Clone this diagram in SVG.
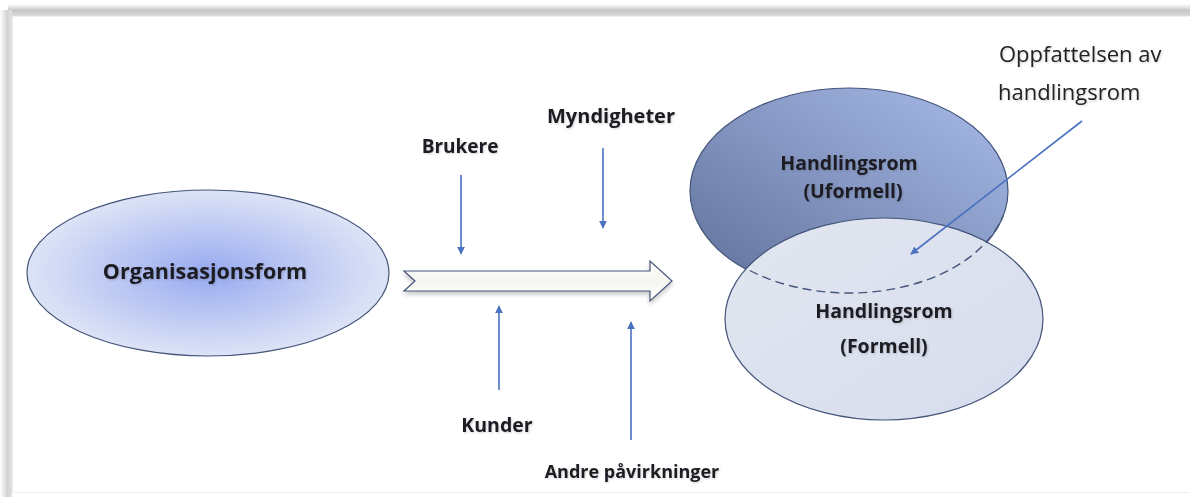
<svg xmlns="http://www.w3.org/2000/svg" width="1190" height="497" viewBox="0 0 1190 497" overflow="hidden">
  <style>
    .lbl { font-family: "Open Sans", "Liberation Sans", sans-serif; font-weight: 700; font-size: 19.5px; fill: #1c1c24; }
    .note { font-family: "Open Sans", "Liberation Sans", sans-serif; font-weight: 400; font-size: 22px; fill: #222; }
    .infl { stroke: #4a72c0; stroke-width: 1.6; fill: none; }
    .outline { stroke: #45557a; stroke-width: 1.2; }
  </style>
  <defs>
    <radialGradient id="orgFill" cx="0.5" cy="0.5" r="0.5">
      <stop offset="0" stop-color="#98aaf0"/>
      <stop offset="1" stop-color="#dde3f6"/>
    </radialGradient>
    <linearGradient id="uformFill" x1="0" y1="1" x2="1" y2="0">
      <stop offset="0" stop-color="#5f7199"/>
      <stop offset="1" stop-color="#a9bbe9"/>
    </linearGradient>
    <linearGradient id="formFill" x1="0" y1="0" x2="1" y2="1">
      <stop offset="0" stop-color="#e2e6f0"/>
      <stop offset="1" stop-color="#d6dded"/>
    </linearGradient>
    <linearGradient id="shaftFill" x1="0" y1="0" x2="0" y2="1">
      <stop offset="0" stop-color="#ffffff"/>
      <stop offset="0.5" stop-color="#f6f6f0"/>
      <stop offset="1" stop-color="#ffffff"/>
    </linearGradient>
    <linearGradient id="topShade" x1="0" y1="0" x2="0" y2="1">
      <stop offset="0" stop-color="#ffffff"/>
      <stop offset="0.55" stop-color="#c6c6c6"/>
      <stop offset="1" stop-color="#dcdcdc"/>
    </linearGradient>
    <linearGradient id="leftShade" x1="0" y1="0" x2="1" y2="0">
      <stop offset="0" stop-color="#ffffff"/>
      <stop offset="0.6" stop-color="#d2d2d2"/>
      <stop offset="1" stop-color="#e2e2e2"/>
    </linearGradient>
    <filter id="drop" x="-10%" y="-30%" width="120%" height="160%">
      <feDropShadow dx="0" dy="3" stdDeviation="2" flood-color="#000" flood-opacity="0.22"/>
    </filter>
    <filter id="txtGlow" x="-5%" y="-20%" width="110%" height="140%">
      <feDropShadow dx="1" dy="1" stdDeviation="1" flood-color="#000" flood-opacity="0.18"/>
    </filter>
    <marker id="tip" viewBox="0 0 10 10" refX="9" refY="5" markerWidth="5" markerHeight="5" orient="auto">
      <path d="M0,0 L10,5 L0,10 Z" fill="#4a72c0"/>
    </marker>
  </defs>

  <!-- page frame: soft shading along the top and left edges -->
  <rect x="0" y="0" width="1190" height="497" fill="#ffffff"/>
  <rect x="8" y="4" width="1182" height="12" fill="url(#topShade)"/>
  <rect x="0" y="10" width="12" height="487" fill="url(#leftShade)"/>
  <line x1="12.5" y1="16" x2="12.5" y2="492" stroke="#ececec"/>
  <line x1="12" y1="16.5" x2="1190" y2="16.5" stroke="#f0f0f0"/>
  <line x1="12" y1="492.5" x2="1190" y2="492.5" stroke="#efefef"/>

  <!-- Organisasjonsform -->
  <g id="node-organisasjonsform">
    <ellipse cx="208" cy="273" rx="181" ry="83" fill="url(#orgFill)" class="outline"/>
    <text x="205" y="279" text-anchor="middle" class="lbl" style="font-size:21.5px" filter="url(#txtGlow)">Organisasjonsform</text>
  </g>

  <!-- main hollow arrow -->
  <g id="node-flow-arrow">
    <polygon points="404,271 650,271 650,261 672,281 650,301 650,291 404,291 415,281" fill="url(#shaftFill)" class="outline" filter="url(#drop)"/>
  </g>

  <!-- Handlingsrom (Uformell) -->
  <g id="node-uformell">
    <ellipse cx="849" cy="191" rx="159" ry="103" fill="url(#uformFill)" class="outline"/>
    <text x="849" y="170" text-anchor="middle" class="lbl" filter="url(#txtGlow)">Handlingsrom</text>
    <text x="853" y="198" text-anchor="middle" class="lbl" filter="url(#txtGlow)">(Uformell)</text>
  </g>

  <!-- Handlingsrom (Formell) -->
  <g id="node-formell">
    <ellipse cx="884" cy="319" rx="159" ry="101" fill="url(#formFill)" class="outline"/>
    <text x="884" y="318" text-anchor="middle" class="lbl" filter="url(#txtGlow)">Handlingsrom</text>
    <text x="884" y="353" text-anchor="middle" class="lbl" filter="url(#txtGlow)">(Formell)</text>
  </g>

  <!-- hidden lower edge of the informal space -->
  <g id="node-uformell-edge">
    <path d="M749.8,270.5 A159,103 0 0 0 1003.1,215.5" fill="none" stroke="#45557a" stroke-width="1.4" stroke-dasharray="9,5"/>
  </g>

  <!-- influence labels -->
  <g id="node-brukere"><text x="460" y="153" text-anchor="middle" class="lbl" style="font-size:19px" filter="url(#txtGlow)">Brukere</text></g>
  <g id="node-myndigheter"><text x="611" y="123" text-anchor="middle" class="lbl" style="font-size:20px" filter="url(#txtGlow)">Myndigheter</text></g>
  <g id="node-kunder"><text x="497" y="432" text-anchor="middle" class="lbl" filter="url(#txtGlow)">Kunder</text></g>
  <g id="node-andre"><text x="632" y="478" text-anchor="middle" class="lbl" style="font-size:18px" filter="url(#txtGlow)">Andre påvirkninger</text></g>

  <!-- perception note -->
  <g id="node-oppfattelsen">
    <text x="999" y="62" class="note" filter="url(#txtGlow)">Oppfattelsen av</text>
    <text x="998" y="100" class="note" filter="url(#txtGlow)">handlingsrom</text>
  </g>

  <!-- connectors -->
  <g id="connectors">
    <line x1="461" y1="175" x2="461" y2="254" class="infl" marker-end="url(#tip)"/>
    <line x1="603" y1="148" x2="603" y2="228" class="infl" marker-end="url(#tip)"/>
    <line x1="499" y1="390" x2="499" y2="306" class="infl" marker-end="url(#tip)"/>
    <line x1="631" y1="440" x2="631" y2="322" class="infl" marker-end="url(#tip)"/>
    <line x1="1082" y1="121" x2="911" y2="254" class="infl" stroke-width="1.3" marker-end="url(#tip)"/>
  </g>
</svg>
